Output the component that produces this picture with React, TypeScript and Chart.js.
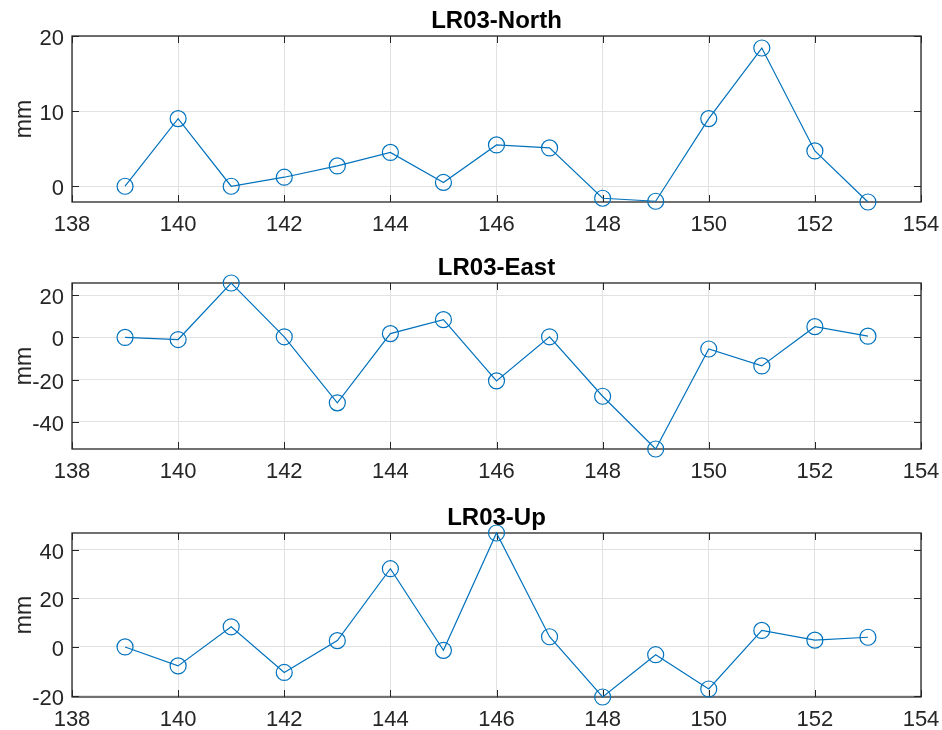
import React, { useEffect, useRef } from 'react';
import { Chart, registerables } from 'chart.js';
Chart.register(...registerables);

const weeks = [139, 140, 141, 142, 143, 144, 145, 146, 147, 148, 149, 150, 151, 152, 153];
const northMm = [0, 9.0, 0, 1.2, 2.7, 4.5, 0.5, 5.5, 5.1, -1.6, -2.0, 9.0, 18.4, 4.7, -2.1];
const eastMm = [0, -1.0, 25.8, 0.3, -31.0, 1.8, 8.4, -20.6, 0.3, -27.9, -52.9, -5.5, -13.5, 5.1, 0.6];
const upMm = [0, -7.8, 8.3, -10.5, 2.6, 32.2, -1.4, 46.9, 4.2, -20.6, -3.2, -17.3, 6.8, 2.8, 4.0];

const xTicks = [138, 140, 142, 144, 146, 148, 150, 152, 154];
const xRange = [138, 154];
const northTicks = [0, 10, 20];
const eastTicks = [-40, -20, 0, 20];
const upTicks = [-20, 0, 20, 40];
const northRange = [-2.1, 20];
const eastRange = [-52.9, 25.8];
const upRange = [-20.6, 46.9];

const titles = ['LR03-North', 'LR03-East', 'LR03-Up'];
const yLabel = 'mm';

const BLUE = 'rgb(0,114,189)';
const GRID = '#e2e2e2';
const INK = '#262626';
const FONT = "'Liberation Sans', Arial, sans-serif";

const PAD_TOP = 36;
const PAD_BOTTOM = 38;
const LEFT = 72;
const RIGHT_PAD = 21;

type PanelProps = {
  title: string;
  values: number[];
  range: number[];
  yTicks: number[];
  top: number;
  height: number;
};

function Panel({ title, values, range, yTicks, top, height }: PanelProps) {
  const ref = useRef<HTMLCanvasElement>(null);
  const canvasH = PAD_TOP + height + PAD_BOTTOM;

  useEffect(() => {
    if (!ref.current) return;
    const framePlugin = {
      id: 'frame',
      beforeDatasetsDraw(chart: any) {
        const { ctx, chartArea } = chart;
        const { left, right, top: t, bottom } = chartArea;
        const xs = chart.scales.x;
        const ys = chart.scales.y;
        ctx.save();
        ctx.strokeStyle = INK;
        ctx.lineWidth = 1.3;
        ctx.strokeRect(left, t, right - left, bottom - t);
        ctx.lineWidth = 1;
        const tl = 7;
        ctx.beginPath();
        xTicks.forEach((v) => {
          const px = Math.round(xs.getPixelForValue(v)) + 0.5;
          ctx.moveTo(px, bottom);
          ctx.lineTo(px, bottom - tl);
          ctx.moveTo(px, t);
          ctx.lineTo(px, t + tl);
        });
        yTicks.forEach((v) => {
          const py = Math.round(ys.getPixelForValue(v)) + 0.5;
          ctx.moveTo(left, py);
          ctx.lineTo(left + tl, py);
          ctx.moveTo(right, py);
          ctx.lineTo(right - tl, py);
        });
        ctx.stroke();
        ctx.restore();
      },
      afterDraw(chart: any) {
        const { ctx, chartArea } = chart;
        ctx.save();
        ctx.fillStyle = '#000';
        ctx.font = `bold 24px ${FONT}`;
        ctx.textAlign = 'center';
        ctx.textBaseline = 'alphabetic';
        ctx.fillText(title, (chartArea.left + chartArea.right) / 2, chartArea.top - 8);
        ctx.fillStyle = INK;
        ctx.font = `23px ${FONT}`;
        ctx.translate(25, (chartArea.top + chartArea.bottom) / 2);
        ctx.rotate(-Math.PI / 2);
        ctx.textBaseline = 'middle';
        ctx.fillText(yLabel, 0, 0);
        ctx.restore();
      },
    };

    const chart = new Chart(ref.current, {
      type: 'line',
      data: {
        datasets: [
          {
            data: weeks.map((w, i) => ({ x: w, y: values[i] })),
            borderColor: BLUE,
            borderWidth: 1.2,
            pointRadius: 8,
            pointHoverRadius: 8,
            pointBorderWidth: 1.2,
            pointBackgroundColor: 'rgba(0,0,0,0)',
            pointBorderColor: BLUE,
            fill: false,
            tension: 0,
            clip: false as any,
          },
        ],
      },
      options: {
        animation: false,
        responsive: false,
        events: [],
        layout: { padding: { top: PAD_TOP, left: 0, right: RIGHT_PAD, bottom: 8 } },
        plugins: {
          legend: { display: false },
          tooltip: { enabled: false },
          title: { display: false },
        },
        scales: {
          x: {
            type: 'linear',
            min: xRange[0],
            max: xRange[1],
            afterBuildTicks: (ax: any) => {
              ax.ticks = xTicks.map((v) => ({ value: v }));
            },
            afterFit: (ax: any) => {
              ax.height = 30;
              ax.paddingLeft = 0;
              ax.paddingRight = 0;
            },
            grid: { color: GRID, drawTicks: false, lineWidth: 1 },
            border: { display: false },
            ticks: {
              padding: 10,
              color: INK,
              font: { family: FONT, size: 22 },
              maxRotation: 0,
              autoSkip: false,
            },
          },
          y: {
            type: 'linear',
            min: range[0],
            max: range[1],
            afterBuildTicks: (ax: any) => {
              ax.ticks = yTicks.map((v) => ({ value: v }));
            },
            afterFit: (ax: any) => {
              ax.width = LEFT;
              ax.paddingTop = 0;
              ax.paddingBottom = 0;
            },
            grid: { color: GRID, drawTicks: false, lineWidth: 1 },
            border: { display: false },
            ticks: {
              padding: 8,
              labelOffset: 3,
              color: INK,
              font: { family: FONT, size: 22 },
              autoSkip: false,
            },
          },
        },
      },
      plugins: [framePlugin],
    } as any);
    return () => chart.destroy();
  }, [title, values, range, yTicks, height]);

  return (
    <canvas
      ref={ref}
      width={942}
      height={canvasH}
      style={{ position: 'absolute', left: 0, top: top - PAD_TOP, width: 942, height: canvasH }}
    />
  );
}

export default function App() {
  return (
    <div
      style={{
        position: 'absolute',
        left: 0,
        top: 0,
        width: 942,
        height: 730,
        overflow: 'hidden',
        background: '#fff',
      }}
    >
      <Panel title={titles[0]} values={northMm} range={northRange} yTicks={northTicks} top={36} height={166} />
      <Panel title={titles[1]} values={eastMm} range={eastRange} yTicks={eastTicks} top={283} height={166} />
      <Panel title={titles[2]} values={upMm} range={upRange} yTicks={upTicks} top={533} height={164} />
    </div>
  );
}
